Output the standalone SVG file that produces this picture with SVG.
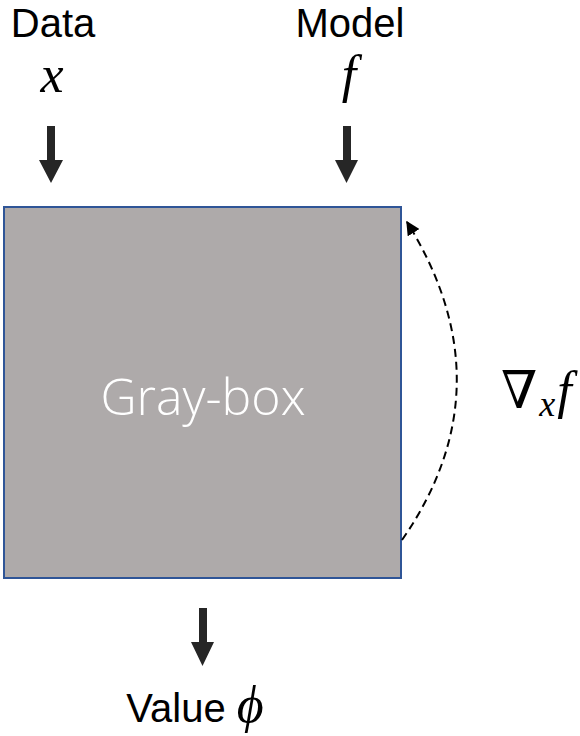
<svg xmlns="http://www.w3.org/2000/svg" width="580" height="736" viewBox="0 0 580 736">
  <defs>
    <style>
      .lbl { font-family: "Liberation Sans", Arial, sans-serif; font-size: 40px; fill: #000; }
      .math { font-family: "Liberation Serif", "DejaVu Serif", serif; font-style: italic; font-size: 52px; fill: #000; }
      .box { fill: #aeaaaa; stroke: #2f5597; stroke-width: 2; }
      .boxtxt { font-family: "Open Sans", "Liberation Sans", sans-serif; font-weight: 300; font-size: 50px; fill: #fff; }
      .fat { fill: #262626; }
      .dash { fill: none; stroke: #000; stroke-width: 2; stroke-dasharray: 8 5; }
    </style>
    <marker id="tri" viewBox="0 0 10 10" refX="9" refY="5" markerWidth="7" markerHeight="7" markerUnits="strokeWidth" orient="auto">
      <path d="M0,0 L10,5 L0,10 Z" fill="#000"/>
    </marker>
  </defs>

  <g id="data">
    <text class="lbl" x="53" y="37" text-anchor="middle">Data</text>
    <text class="math" x="52" y="92" text-anchor="middle">x</text>
  </g>

  <g id="model">
    <text class="lbl" x="350" y="37" text-anchor="middle">Model</text>
    <text class="math" x="349" y="92" text-anchor="middle">f</text>
  </g>

  <g id="graybox">
    <rect class="box" x="4" y="207" width="397" height="371"/>
    <text class="boxtxt" x="203" y="415" text-anchor="middle">Gray-box</text>
  </g>

  <g id="gradient">
    <text class="math" x="501" y="408">∇<tspan font-size="36" dy="8" dx="2">x</tspan><tspan dy="-8" dx="2">f</tspan></text>
  </g>

  <g id="value">
    <text x="195" y="722" text-anchor="middle"><tspan class="lbl">Value </tspan><tspan class="math">ϕ</tspan></text>
  </g>

  <g id="connectors">
    <path class="fat" d="M47,126 H55 V160 H63 L51,183 L39,160 H47 Z"/>
    <path class="fat" d="M343,126 H351 V160 H358 L346.5,183 L335,160 H343 Z"/>
    <path class="fat" d="M199,608 H207 V642 H214 L202.5,666 L191,642 H199 Z"/>
    <path class="dash" d="M402,540 Q509,386 407,222" marker-end="url(#tri)"/>
  </g>
</svg>
